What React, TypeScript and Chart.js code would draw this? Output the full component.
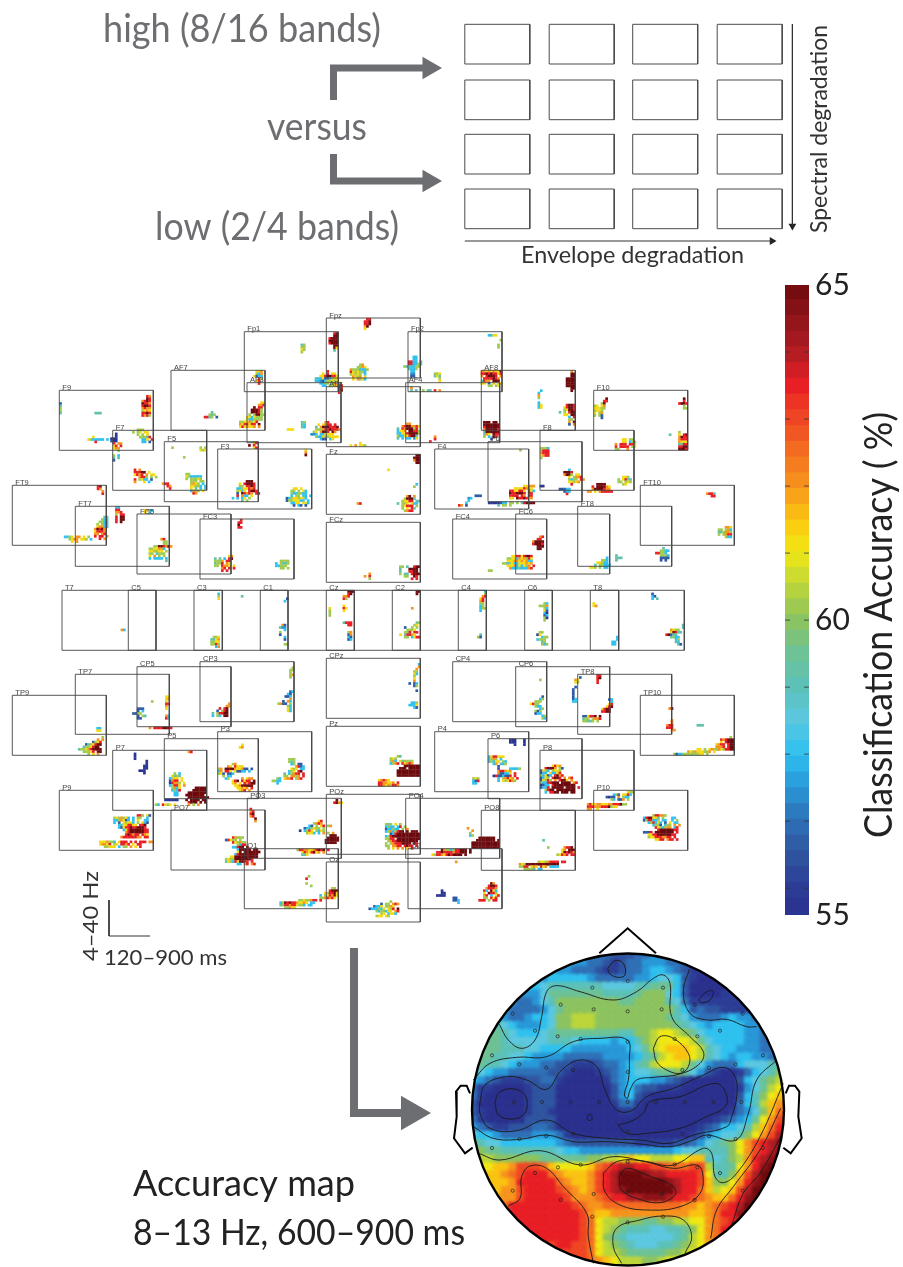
import React, { useEffect, useRef } from "react";
import { Chart, registerables } from "chart.js";

Chart.register(...registerables);

// ---------- accuracy colour scale ----------
const colorStops: number[][] = [
  [55.6, 43, 48, 142], [56, 44, 61, 150], [56.5, 47, 85, 160], [57, 47, 112, 182], [57.5, 40, 152, 216], [58, 47, 193, 239],
  [58.5, 92, 200, 224], [59, 92, 193, 184], [59.5, 109, 194, 149], [60, 141, 195, 95], [60.5, 188, 214, 58],
  [61, 240, 232, 20], [61.4, 250, 205, 15], [62, 247, 148, 29], [63, 239, 70, 36], [63.5, 232, 31, 37],
  [64, 176, 29, 35], [65, 109, 10, 14],
];
// digit code -> accuracy (%) for the electrode time/frequency cells
const digitAccuracy = [55.8, 56.6, 57.4, 58, 59.2, 60.2, 61.2, 62, 63.5, 65];
// letter code a..u -> accuracy 55..65 for the scalp grid
const scalpStep = 0.5;

// ---------- electrode names ----------
const electrodeNames = ["Fpz","Fp1","Fp2","AF7","AF3","AFz","AF4","AF8","F9","F7","F5","F3","Fz","F4","F6","F8","F10","FT9","FT7","FC5","FC3","FCz","FC4","FC6","FT8","FT10","T7","C5","C3","C1","Cz","C2","C4","C6","T8","CPz","CP3","CP5","CP4","CP6","TP7","TP9","TP8","TP10","Pz","P3","P5","P7","P9","P4","P6","P8","P10","POz","PO3","PO7","PO4","PO8","O1","O2","Oz"];

// ---------- electrode cells: [time index, freq index, rows of digit codes] ----------
type Blob = [number, number, string];
const cellsFpz: Blob[] = [[1,6,"  89|  99|8999|9999|8999|  99|  96|  4"],[16,0," 88|889|889|79|6"],[8,19,"      57 |     5576|  75553335|  8656553|  56565 3|   7657 6|   6 7563"]];
const cellsFp1: Blob[] = [[24,5,"45|55|65|5"],[30,16,"     8|   6 8 66|  668998866|4336113566|3321355656|  3355 57|   33 55"]];
const cellsFp2: Blob[] = [[34,1,"3366"],[38,3," 5|  5|5 |5"],[-2,10,"    33|    33|  8833 4|  883354|5443355|  4335|   33|   22|   11"],[11,17,"556|464|  5|  6"],[1,23,"7|4 4  5 44 8 7"],[29,16,"  776767669|  889898868|  7 89998 7|   8888987|  4877 999|  66 1 6 66|     55 56"]];
const cellsAF7: Blob[] = [[14,17,"   4|  545|8845 1"],[34,0,"  667|  537| 6133|   85|  68|   8"],[29,13,"         66|        778|      9 88|     99985|     99985|    5 59955|   6636555|   6335555|55667568|7688688 9|6867667 7"]];
const cellsAF3: Blob[] = [[17,19,"666"],[23,16,"45|43|43"],[25,16,"        78|     6 6788 8|    4 79998889|    55578898887|   56 7998 97|  223 336666|    5336556666|      311 36"]];
const cellsAFz: Blob[] = [[3,-2,"  7|6788|  88|  89|  8"],[8,23,"      6|  6 7 665"],[30,15,"    77|  78997786|4 8799958|3667 99885|3366899995|533668994|4 3 33 26"]];
const cellsAF4: Blob[] = [[31,16,"  999 99|  9999999|  8999999|  7999998|  4999999|  476 988|  5 3 98|     1"],[10,22,"  7|  8|8"]];
const cellsAF8: Blob[] = [[36,0,"  7|  99|  99|9999|9999|9999|9999|  99|  9"],[24,8," 3|3|7|5||3|36|36"],[33,14,"   8998|  689987|  569987|4 5 8998|  66 997|    3 8|    55 5|    7 9|    1 7"]];
const cellsF9: Blob[] = [[35,2,"  87|  98|7898|9887|8998|7877|5676|8898|8785"],[0,5,"1|4|5|5|4"],[15,9,"444"],[12,19,"  6|6533333 3|   8"],[31,16,"  555|5 56 66|  5 5 6|   55548|    336 8|    33 1"]];
const cellsF7: Blob[] = [[-1,1,"  0|  0|000|100"],[0,5,"8 77|68 8|677|  5||5 3|4 4|1"],[9,16,"8 7|88899 6|6878 7 66|  7885 5 5|8 5633 1|7   6 3"]];
const cellsF5: Blob[] = [[3,2,"5"],[8,6,"5"],[15,2,"5 5|656"],[-1,17,"788|  87|   8"],[9,13,"55|6533333|5 55565|  555 55|  5765 3|  66553 3|  6 4 3 3|  3755 6|   87"]];
const cellsF3: Blob[] = [[13,-3,"  68|9 8|  68"],[37,0,"6|7|9"],[6,13,"      999|   6 89998|   55 8898|  33566878|  5636 8998|  1 98787 88|  8 733 6|3 3 36 5|    4 5"],[29,16,"   66 6|  55 5 63|  5335533|  3 55 33 33|135665663|15566633 3|  3366 663|   1 31 1"]];
const cellsFz: Blob[] = [[13,20,"78"],[37,0," 99|999|799| 99"],[26,6,"6"],[37,12," 3|5"],[30,17,"    79 7|   59994|  56688 44|4 556 633|  56888 5|  5 6 84|   5788"]];
const cellsF4: Blob[] = [[36,0,"5"],[10,20,"    23|    3|   3|87 1"],[17,19,"111"]];
const cellsF6: Blob[] = [[7,18,"        66777  00|    66668776|  8866886 863|  9889998 88|  8888 87 88|  66 9889867"],[0,25,"00000133 55 5 489999"],[3,26," 4 55 5"]];
const cellsF8: Blob[] = [[0,7,"5553|5888|7888|6788|5"],[10,16,"  3|9998|7995 66|  6 5778|  5355 87|  66567|   8"],[20,22,"    9999|  8 999976|  79999877|77 6 788888"],[33,19,"  665|5 6844|55 565|  56"],[8,24,"11133|  133|   8"]];
const cellsF10: Blob[] = [[0,3,"     9|    88|   59|56 67|66655|5665|6 57|5 51|   1"],[36,3,"  9|  8|8998|  5|  55"],[32,18,"4"],[34,17,"  5|  6 89|  7988|  7888|  7666|  4488|  8899|  9998"],[9,20,"   66 55|   66 355|7 888 886|8 8888 56|55   7"]];
const cellsFT9: Blob[] = [[36,0,"89|87|  7|  8"],[22,21,"3356 77 6 5|  5677 665 3|   6 7"]];
const cellsFT7: Blob[] = [[6,4,"      44|     533|    5533|   5 533|   67733|  79897|  68887|  77 78|  8 88 7|    8 7"],[15,0,"  33|  88|  778|  5 88|  8 99|  8 99|  8 9"]];
const cellsFC5: Blob[] = [[3,-2,"6733|6 3"],[5,10,"     78|      55|      55|  55998797|5566773|665566 5|55 4555|6 7 5 5|3 3333 3|       4"]];
const cellsFC3: Blob[] = [[16,0," 8|88|9|88"],[6,15,"      67|4 4 3 89|5557 88|4558 76|55 8776 6|   78 8 8|   8 8"],[32,17,"  5555|3 5445|33555|  55 5"]];
const cellsFCz: Blob[] = [[16,21,"  7|7 8|  5"],[31,18,"55 4  899|4   9999|4   8899|5 44 8999|  55  98|     8 8"]];
const cellsFC4: Blob[] = [[15,21,"55"],[21,15,"    668868998|  55663767586|  66677676733|5535633666767|  6667363657 8|   7333433378"]];
const cellsFC6: Blob[] = [[7,9,"   78|  88|79999|89998|  999|  99"]];
const cellsFT8: Blob[] = [[5,21,"       3|     553|   66533|  4 55333|665 5 33"],[14,20,"  4|  444|  4"],[33,17,"   4|  5533|88553|  5553|  1111|  1 1"]];
const cellsFT10: Blob[] = [[28,3,"7884|  88"],[33,17,"   776|55 573|445775|5 5788|   533"]];
const cellsT7: Blob[] = [[25,16,"73"]];
const cellsC5: Blob[] = [];
const cellsC3: Blob[] = [[10,1,"3|5|6"],[7,19," 556|4467|5566|5585|  37"],[20,2,"4"]];
const cellsC1: Blob[] = [[10,3," 1|3"],[8,14," 71|422|  3|5|1|  3|  1||  55"]];
const cellsCz: Blob[] = [[1,7,"6|5|5|5"],[7,0,"  999|  89|778|85|||6|86|6"],[7,13,"4888|  88|||  57|  17|  31|  13"]];
const cellsC2: Blob[] = [[8,0,"  99|  9"],[8,7,"7"],[3,13,"       45|      56|  1  5 5|   5556|  558 88|6 48876|  55 3688"]];
const cellsC4: Blob[] = [[7,0,"    3|    5|   78|  68|  78|  55|  35|  355|  3"],[8,18," 4|51"]];
const cellsC6: Blob[] = [[6,5,"  53|5557|  53|  61|  30|  13|  50|  5"],[5,17," 55|06|  355|3555|  45|  535"]];
const cellsT8: Blob[] = [[1,5,"6|67"],[9,19,"  3|  3|33|33"],[26,1,"1|31|3 4"],[32,14,"       4|       4|  7655|  69844|89144|  4533|    35|    43|     41"]];
const cellsCPz: Blob[] = [[35,2,"    3|    7|   7|  55|  63|  5|  6|  7|1 13|  15"],[38,13,"1|  8"],[35,18," 335|3336|  31"]];
const cellsCP3: Blob[] = [[38,2," 5|55|5|57|5"],[33,12,"     13|    31|   113|     7|  1 73|5711 5|    53|    63|    63"],[5,17,"       7|      77|   8 89|  1 589|4 58899|3 53 99"]];
const cellsCP5: Blob[] = [[6,14,"5"],[-2,17,"  111|  1 3|1155|  1 54|  11"],[10,12,"  66|  67|  6|  88|  7|  6|||  73|  83"],[5,25,"7 88889998"]];
const cellsCP4: Blob[] = [];
const cellsCP6: Blob[] = [[10,5,"5"],[6,12,"     1|    35|  555|6855|  533|    35|  515|  133|     35|     53"],[25,4,"  1|76|65"],[24,8," 1|1|1|1|1|13|33"]];
const cellsTP7: Blob[] = [[9,22,"33|66"]];
const cellsTP9: Blob[] = [[28,17,"          5|        7 7|      1568|   1456899|  4556899|4556789999|  55568 99|    5 6 7"]];
const cellsTP8: Blob[] = [[8,0,"88|89|8|8"],[8,10,"     13|      3|     68|    689|  6899|  8899"],[2,17,"116889 9|455 5778|55445 5"]];
const cellsTP10: Blob[] = [[12,5,"79"],[11,10,"  7|  7|788|888|  77"],[24,12,"444"],[32,17,"      5 7|  87899999|  6 8999999|6788 899999|7778 899999|5765889999"],[14,22,"          66 5 67557|      7657666557 6|5133555555566 5"]];
const cellsPz: Blob[] = [[25,12,"     54|  565|  573 645555|  3578 86787|        99999999|      999 99999|     9999999999|     9999999999|     9999999999"],[22,22,"67876|8877667 8|887675887"]];
const cellsP3: Blob[] = [[9,5," 6|67"],[0,13,"      57|    76 8666|57 9999766711 1|37 886 61133 3|561 113|  5 33|   35"],[4,19,"      7 677|  689 8688 9|  67 6 87899|   66799999|    66767 8|     678 7"],[28,11,"  555|  545|   35 11|     7813|   656 33|  356 89|4 35788 8|55 7757 8|6778 578"],[23,19,"  53|5533|  3"]];
const cellsP5: Blob[] = [[10,5,"78"],[0,14,"    5 3|   6454|  3566 6|  1788 6|  08775 6|  35886 7|   5736|   3538|    33|    33"],[7,20,"      99999|     999999|   99999999|  99999999|   999999999|  9 9999 99|   8999 9 9|   7 5 7"],[0,25,"000000"],[-4,27,"53 8656 6"]];
const cellsP7: Blob[] = [[9,1,"0|0|0"],[11,4,"   0|   0|  00|  00|000|  0"]];
const cellsP9: Blob[] = [[23,10,"          885 61|5657563 3 55  3|3357613 3 6  33|3 1 65663 5 631|  33668866 889|  316889889998|    36899999988|     7899999988|     898788 876|   788888877 88"],[17,21,"6667553 6888 8 8 888 77|67768 56 8878 6 88|  55666 3 55 7 6 8"]];
const cellsP4: Blob[] = [[16,19,"565|318|33"]];
const cellsP6: Blob[] = [[9,0,"000|000|  0"],[15,0,"0|0|0"],[0,7,"3688666 |3575 3|35366 53|  37 435|    1|    1    33335|    788767|    711336 8|  08113118 8|    3 57867 8|    3 656875"]];
const cellsP8: Blob[] = [[0,6,"     6867|  89997 51|1653 5665|133 63368|53613 8978|1365 8998 7 78|16585 7 8996 7|53388999 9999 78|0133 8999999999|1338 99999 9999 8|  5899 99999999|  3 8899 999 99"],[28,17,"         655|   351 6683|1011 7 533|  53 117 5"],[20,22,"78667766677888955|8887778889566 |77  6"]];
const cellsP10: Blob[] = [[21,10,"    588775|3899664 5   33|1588335 33  3 5|  358363 1 6 33|    3551 355 7 7|     8653577 38|      899999988|1118 99999999 8|  668899999988|  5668887788 8|     6688 788 8"]];
const cellsPOz: Blob[] = [[3,2," 9|8976"],[23,12,"  545 6 5|  3533 38 5|  133533 5 7|  35735899 9 999|    1389999999999|  358999999999999|  5588 9999999999|   5788999999999|  5 578889999 98|  55 7788 8988 8|   5 6 7 7 6 8"]];
const cellsPO3: Blob[] = [[1,4,"8|78|89|78|  9|  7"],[22,9,"        68|      5787|    31 5 68 57|  1335655 5|0 3586 5365|   5663 3 7 5 7|             999|            99999|           999999|           99999"],[21,21,"588776678989 8|  68768967 7|  446"]];
const cellsPO7: Blob[] = [[23,11,"   87555|18655 5|   865755|     5388|   33899 9|     399999 99|     69 9999999|    3899999999|  669999999999|565599999998|4653869988 8|     33 78 78"]];
const cellsPO4: Blob[] = [[11,21,"    97553588999 9|  8898888788999 9|6588768989999 9"],[28,16,"   9999999|  99999999 9|999999999999|999999999999|999999999999"],[25,12," 7|   7|  5|  35"],[21,26,"7"]];
const cellsPO8: Blob[] = [[26,12,"4"],[28,15,"5"],[32,15,"   7889|  67 9998|  698987|56878 888"],[16,21,"        566578888 88|76599999999999999|5588 676 867 3333|  55554 33"]];
const cellsO1: Blob[] = [[26,11," 5|8||5"],[28,15,"5"],[30,16,"       55|      8999|    658896|  3 568796|  5578786"],[15,21,"        55655788 8|359898876676 33|45887886553 33|  55766"]];
const cellsO2: Blob[] = [[12,17,"  0|  00|0000"],[19,20,"11|113|  3"],[30,14,"     97|    8998|   78887|  83 963|  6 9885|  78 3 68|  55 868|888 5 88"]];
const cellsOz: Blob[] = [[18,16,"         5|     1 55 787|  1336 5576|1333536 658 9|   5355366 78|     56 3663|   566 65"]];

const electrodeCells: Blob[][] = [cellsFpz,cellsFp1,cellsFp2,cellsAF7,cellsAF3,cellsAFz,cellsAF4,cellsAF8,cellsF9,cellsF7,cellsF5,cellsF3,cellsFz,cellsF4,cellsF6,cellsF8,cellsF10,cellsFT9,cellsFT7,cellsFC5,cellsFC3,cellsFCz,cellsFC4,cellsFC6,cellsFT8,cellsFT10,cellsT7,cellsC5,cellsC3,cellsC1,cellsCz,cellsC2,cellsC4,cellsC6,cellsT8,cellsCPz,cellsCP3,cellsCP5,cellsCP4,cellsCP6,cellsTP7,cellsTP9,cellsTP8,cellsTP10,cellsPz,cellsP3,cellsP5,cellsP7,cellsP9,cellsP4,cellsP6,cellsP8,cellsP10,cellsPOz,cellsPO3,cellsPO7,cellsPO4,cellsPO8,cellsO1,cellsO2,cellsOz];

// ---------- scalp map: letters a..u, 40 columns by 40 rows ----------
const scalpRows = [
"ggggg ggggg ggggg feedd deeff fgggg ggggg ggggg",
"ggggg ggggg gggff eedcd eefff eeddd ddddd ddddd",
"ggggg ggggg gffee edccd eefgg fedcc cbbcc ddddd",
"ggggg gggff ggggg feeee effgh hgdcb bbbbc ddddd",
"ggggg ggggh iiiii iihhh hiijj jgdbb bbbcc ddddd",
"fffff gfffh jjjjj jjiii ijkkk hgdbb bbccc ccddd",
"ggggg feefh ikkkk kkkkj jkkkk ihecc ccccc ccddd",
"ggggf eeeef hjkkk kkkkk kkkkk kigde ddccc ccddd",
"hhhgf eefgg hkkll lkkkk kkkkk jihfe eefgf feddd",
"iiiih gfffg hkkll lkkkk kkkkk kjihg fgggg ffedd",
"jjjji hgggh ijjjj jjjji ikklm mlkjh ggggg ffeee",
"kjjji hhhhh iiihg gggfg giklm mmmlj hgggg ffeee",
"kkjji iihhg gggff fffff ghjlm nnnml ihggf ffeee",
"kjjii hhgff ffeee eefff fgijl mnnml ihgfg gffee",
"jjiih gfffe eddcc cdeef gijlm mmljh feeeg hhhii",
"ihgff eeeee ddcbb bcdef ghhij jkjhf dcbbc eghik",
"gfedc ccdde ecbaa abcef gggff edcbb baabd ghjkl",
"eccba aacdd dbaaa aabdf geddc ccbba aaabc fhjlm",
"ecbaa aacdd dbaaa aabdf gdcbb bbaaa aaabd gikmn",
"dbaaa aacdd daaaa aaace ecbaa aaaaa aaabe gilno",
"dcaaa aacdd caaaa aaabc cbaaa aaaaa aabce fhknp",
"ecbaa abddd daaaa aaaaa aaaaa aaaab bcdef gjmoq",
"fedcc dddee dbaaa aaaaa aaaaa aaabc deggh ilnpr",
"hggfe eeeff fecbb bbbbb baaaa abbcd fghhi kmoqs",
"jihhg ggggg gfedd ddddd dcccc cddef hijkm oqrst",
"kkjji iiiii ihggf fffff fffff fghhi iiikm oqrst",
"lllkk kkkkj jjjjj kkllm nmmll lmmnn ihikl orstu",
"lmmnn oqqqp nmmmm npqrs srrqq pppqq liijm ortuu",
"mmnno pqrrr ponnn oqrsu uutss rrrrq miikn qsuuu",
"nnnnn orrrr rponn oqrsu uuuuu tsrrq nkkmo rtuuu",
"nnnno oqrrr rqpon oqrst uuuuu usrrp nlmnq suuuu",
"nnnoo oqrrr rrqoo opqrr ssttt srrqp onnpr tuuuu",
"ooopp rrrrr rrrqp ooppp ppppp ppoon opqrs uuuuu",
"ooppq rrrrr rrrrq onnoo ooooo ooonn oprrt uuuuu",
"ppqqq rrrrr rrrrq pmllk kkjjk kllmm opqrs tuuuu",
"ppqqq qrrrr rrrrq pmlkj iiihh iijkm oprrs ttuuu",
"ppqqq qqrrr rrrrq pmkji hhhhh hijlm oprrs ttuuu",
"ppqqq qqqrr qrrqq pmlkj ihhhi ijklm opqrr ssttt",
"ppqqq qqqqq qqqqq pmllk jjjjj kklmn oppqr rsstt",
"ppqqq qqqqq qqqqq ponml llkkl mmnop opqqr rsstt",
];

// contour lines in scalp units
const contours: number[][][] = [
  [[178,313],[205,360],[245,385],[285,360],[305,290],[320,215],[350,197],[420,215],[520,240],[590,215],[640,175],[670,165],[690,190],[695,290],[750,350],[790,395],[780,430],[720,462],[640,472],[590,480],[570,510],[562,535],[553,525],[565,480],[568,420],[562,360],[480,355],[400,365],[320,410],[230,412],[150,430],[100,480]],
  [[120,545],[135,495],[200,470],[260,480],[320,508],[365,450],[420,420],[470,440],[495,510],[530,570],[575,572],[620,530],[700,505],[790,465],[850,442],[885,470],[890,530],[875,590],[860,620],[760,645],[690,670],[600,660],[500,655],[400,640],[320,600],[230,632],[150,625],[120,580],[120,545]],
  [[165,550],[175,520],[213,506],[250,520],[262,550],[250,585],[213,597],[175,585],[165,550]],
  [[100,620],[160,655],[240,658],[320,645],[400,665],[500,665],[600,672],[690,680],[760,660],[800,645],[888,660],[925,580],[950,480],[1010,420]],
  [[115,700],[180,720],[300,692],[420,735],[520,710],[620,725],[700,735],[790,685],[815,700],[825,770],[850,788],[890,760],[960,650],[1030,490]],
  [[205,858],[240,835],[245,770],[270,738],[320,745],[370,800],[440,880],[445,950],[460,1030]],
  [[490,760],[530,725],[600,722],[700,745],[770,735],[788,760],[780,820],[720,860],[620,870],[540,855],[495,815],[490,760]],
  [[537,770],[560,745],[620,765],[700,800],[705,825],[660,848],[590,835],[545,810],[537,770]],
  [[640,385],[660,350],[700,355],[745,400],[745,440],[720,460],[680,450],[650,425],[640,385]],
  [[533,615],[570,605],[610,580],[630,545],[720,530],[825,490],[858,520],[855,560],[800,590],[720,625],[620,640],[560,640],[533,615]],
  [[503,145],[525,122],[550,130],[555,165],[535,172],[510,162],[503,145]],
  [[748,148],[730,215],[750,280],[800,300],[860,298],[920,320],[950,320]],
  [[775,240],[800,215],[820,215],[810,240],[785,248],[775,240]],
  [[442,590],[448,582],[456,590],[454,600],[443,600],[442,590]],
  [[545,1030],[520,980],[530,925],[600,900],[670,888],[730,900],[755,950],[735,1000]],
  [[812,955],[830,870],[880,800],[960,690],[1022,565]],
  [[875,915],[910,820],[960,760],[1025,645]],
];
// electrode sites in scalp units
const sites: number[][] = [[563,183],[457,203],[669,203],[764,254],[362,254],[461,268],[563,274],[665,268],[218,281],[908,281],[285,332],[840,332],[353,349],[422,357],[704,357],[772,349],[563,365],[156,406],[969,406],[238,433],[319,443],[399,450],[563,456],[727,450],[807,443],[887,433],[222,546],[306,546],[392,546],[477,546],[563,546],[648,546],[735,546],[820,546],[904,546],[399,641],[563,635],[727,641],[238,657],[319,648],[807,648],[887,657],[156,684],[969,684],[422,734],[563,725],[704,734],[354,742],[772,742],[285,759],[840,759],[218,812],[908,812],[461,822],[563,816],[665,822],[362,840],[764,840],[457,890],[669,890],[563,907]];
const nose = [[478,100],[563,25],[648,100]];
const earLeft = [[90,520],[80,497],[62,497],[48,515],[50,590],[42,655],[75,700],[98,683]];
const earRight = [[1037,520],[1047,497],[1065,497],[1078,515],[1075,590],[1085,655],[1052,700],[1030,683]];

// ---------- colour bar ----------
const barMin = 55.6;
const barMax = 65;
const barTicks = [55.6, 60, 65];
const barMinorTicks = [56, 57, 58, 59, 60, 61, 62, 63, 64];

// ---------- layout (kept apart from values) ----------
const panelW = 94, panelH = 60;
const cellW = panelW / 40, cellH = panelH / 25;
const panelLeft = [326.3,244.3,408,171,247,326.3,405.7,481.3,59.3,112.7,164.3,217.7,326.3,434.7,488,540,593.7,12.3,75.3,137,200,326.3,452.7,515.7,577.7,640.3,62,128.3,194,260.3,326.3,392.3,458.3,524.7,590.3,326.3,200,137,452.7,515.7,75.3,12.3,577.7,640.3,326.3,217.7,164.3,112.7,59.3,434.7,488,540,593.7,326.3,247.3,171,405.7,481.3,244.3,408,326.3];
const panelTop = [318,331.7,331.7,370.3,382.7,386.7,382.7,370.3,390.3,430.3,441.7,449,454.3,449,441.7,430.3,390.3,485.3,506.3,514,519,522.3,519,514,506.3,485.3,590.3,590.3,590.3,590.3,590.3,590.3,590.3,590.3,590.3,658.3,661.7,666.7,661.7,666.7,674.3,695.3,674.3,695.3,726.3,731.7,738.7,750.3,790.3,731.7,738.7,750.3,790.3,794.3,798.3,810,798.3,810.3,848.7,848.7,862];
const gridLeft = [464.8, 549.2, 632.7, 717.2];
const gridTop = [24.3, 80, 134.3, 189];
const gridW = 65, gridH = 39.7;
const headCx = 628, headCy = 1109.5, headR = 156;
const scalpX = (z: number) => 440 + z / 3;
const scalpY = (z: number) => 920 + z / 3;

const GREY = "#6d6e71";
const textItems: { t: string; x: number; y: number; size: number; w: number; color: string; rot?: number }[] = [
  { t: "high (8/16 bands)", x: 103, y: 42, size: 38, w: 278, color: GREY },
  { t: "versus", x: 267, y: 140, size: 38, w: 100, color: GREY },
  { t: "low (2/4 bands)", x: 155, y: 240, size: 38, w: 244, color: GREY },
  { t: "Envelope degradation", x: 521, y: 263, size: 23, w: 223, color: "#333" },
  { t: "Spectral degradation", x: 827, y: 233, size: 23, w: 208, color: "#333", rot: -90 },
  { t: "Accuracy map", x: 133, y: 1196, size: 37, w: 222, color: "#222" },
  { t: "8\u201313 Hz, 600\u2013900 ms", x: 133, y: 1245, size: 37, w: 332, color: "#222" },
  { t: "4\u201340 Hz", x: 98, y: 961, size: 22, w: 90, color: "#333", rot: -90 },
  { t: "120\u2013900 ms", x: 104, y: 965, size: 22, w: 123, color: "#333" },
  { t: "Classification Accuracy ( %)", x: 892, y: 838, size: 38, w: 426, color: "#222", rot: -90 },
];

// ---------- helpers ----------
function accuracyColor(v: number): string {
  const s = colorStops;
  if (v <= s[0][0]) return `rgb(${s[0][1]},${s[0][2]},${s[0][3]})`;
  for (let i = 1; i < s.length; i++) {
    if (v <= s[i][0]) {
      const f = (v - s[i - 1][0]) / (s[i][0] - s[i - 1][0]);
      const c = [1, 2, 3].map((k) => Math.round(s[i - 1][k] + f * (s[i][k] - s[i - 1][k])));
      return `rgb(${c[0]},${c[1]},${c[2]})`;
    }
  }
  const l = s[s.length - 1];
  return `rgb(${l[1]},${l[2]},${l[3]})`;
}

function buildCells() {
  const pts: { x: number; y: number }[] = [];
  const colors: string[] = [];
  electrodeCells.forEach((blobs, p) => {
    blobs.forEach(([c0, r0, body]) => {
      body.split("|").forEach((row, r) => {
        for (let c = 0; c < row.length; c++) {
          if (row[c] === " " || c0 + c > 39) continue;
          pts.push({ x: panelLeft[p] + (c0 + c + 0.5) * cellW, y: panelTop[p] + (r0 + r + 0.5) * cellH });
          colors.push(accuracyColor(digitAccuracy[+row[c]]));
        }
      });
    });
  });
  return { pts, colors };
}

function buildScalp() {
  const pts: { x: number; y: number }[] = [];
  const colors: string[] = [];
  const n = 40;
  const side = (2 * headR + 2) / n;
  scalpRows.forEach((raw, j) => {
    const row = raw.replace(/ /g, "");
    for (let i = 0; i < row.length; i++) {
      const v = 55 + (row.charCodeAt(i) - 97) * scalpStep;
      pts.push({ x: headCx - headR - 1 + (i + 0.5) * side, y: headCy - headR - 1 + (j + 0.5) * side });
      colors.push(accuracyColor(v));
    }
  });
  return { pts, colors, radius: (side / Math.SQRT2) * 1.45 };
}

const toScalp = (a: number[][]) => a.map(([x, y]) => ({ x: scalpX(x), y: scalpY(y) }));
const GAP = { x: NaN, y: NaN };

function boxes(lefts: number[], tops: number[], w: number, h: number) {
  const out: { x: number; y: number }[] = [];
  lefts.forEach((l, i) => {
    const t = tops[i];
    out.push({ x: l, y: t }, { x: l + w, y: t }, { x: l + w, y: t + h }, { x: l, y: t + h }, { x: l, y: t }, GAP);
  });
  return out;
}

const lineDs = (data: any[], color: string, width: number, order: number, tension = 0) => ({
  data, showLine: true, borderColor: color, borderWidth: width, pointRadius: 0, tension, order, spanGaps: false, fill: false,
});

export default function App() {
  const mainRef = useRef<HTMLCanvasElement>(null);
  const barRef = useRef<HTMLCanvasElement>(null);

  useEffect(() => {
    const cells = buildCells();
    const scalp = buildScalp();
    const gridXs: number[] = [];
    const gridYs: number[] = [];
    gridTop.forEach((t) => gridLeft.forEach((l) => { gridXs.push(l); gridYs.push(t); }));

    const datasets: any[] = [
      { label: "scalp", data: scalp.pts, pointStyle: "rect", pointRadius: scalp.radius, pointBorderWidth: 0, pointBackgroundColor: scalp.colors, showLine: false, order: 30 },
      { label: "cells", data: cells.pts, pointStyle: "rect", pointRadius: 1.9, pointBorderWidth: 0, pointBackgroundColor: cells.colors, showLine: false, order: 20 },
      lineDs(boxes(panelLeft, panelTop, panelW, panelH), "rgba(70,70,70,0.9)", 1, 10),
      lineDs(boxes(gridXs, gridYs, gridW, gridH), "#4a4a4a", 1, 10),
      ...contours.map((c) => ({ ...lineDs(toScalp(c), "#1a1a1a", 0.9, 5, 0.4) })),
      { data: toScalp(sites), pointStyle: "circle", pointRadius: 1.6, pointBorderWidth: 0.7, pointBorderColor: "#222", pointBackgroundColor: "rgba(0,0,0,0)", showLine: false, order: 4 },
      { data: [{ x: headCx, y: headCy }], pointStyle: "circle", pointRadius: headR, pointBorderWidth: 2.4, pointBorderColor: "#000", pointBackgroundColor: "rgba(0,0,0,0)", showLine: false, order: 3, clip: false },
      lineDs(toScalp(nose), "#000", 2, 3),
      lineDs(toScalp(earLeft), "#000", 2, 3),
      lineDs(toScalp(earRight), "#000", 2, 3),
      // arrows
      lineDs([{ x: 333.5, y: 100 }, { x: 333.5, y: 68 }, { x: 428, y: 68 }], GREY, 7, 2),
      lineDs([{ x: 333.5, y: 154 }, { x: 333.5, y: 181 }, { x: 428, y: 181 }], GREY, 7, 2),
      lineDs([{ x: 354, y: 948 }, { x: 354, y: 1113 }, { x: 410, y: 1113 }], GREY, 8, 2),
      { data: [{ x: 429, y: 68 }, { x: 429, y: 181 }], pointStyle: "triangle", pointRadius: 13, pointRotation: 90, pointBorderWidth: 0, pointBackgroundColor: GREY, showLine: false, order: 2 },
      { data: [{ x: 411, y: 1113 }], pointStyle: "triangle", pointRadius: 20, pointRotation: 90, pointBorderWidth: 0, pointBackgroundColor: GREY, showLine: false, order: 2 },
      lineDs([{ x: 792.4, y: 24 }, { x: 792.4, y: 226 }], "#333", 1, 2),
      lineDs([{ x: 464.8, y: 241 }, { x: 772, y: 241 }], "#333", 1, 2),
      { data: [{ x: 792.4, y: 226 }], pointStyle: "triangle", pointRadius: 4.5, pointRotation: 180, pointBorderWidth: 0, pointBackgroundColor: "#222", showLine: false, order: 2 },
      { data: [{ x: 772, y: 241 }], pointStyle: "triangle", pointRadius: 4.5, pointRotation: 90, pointBorderWidth: 0, pointBackgroundColor: "#222", showLine: false, order: 2 },
      // scale bar
      lineDs([{ x: 109, y: 900 }, { x: 109, y: 936 }, { x: 150, y: 936 }], "#333", 1, 2),
    ];

    const scalpClip = {
      id: "scalpClip",
      beforeDatasetDraw(chart: any, args: any) {
        if (args.index !== 0 && args.index !== 1) return;
        const c = chart.ctx;
        c.save();
        if (args.index === 0) {
          c.beginPath();
          c.arc(headCx, headCy, headR, 0, Math.PI * 2);
          c.clip();
          c.filter = "blur(1.5px)";
        } else {
          c.filter = "blur(0.35px)";
        }
      },
      afterDatasetDraw(chart: any, args: any) {
        if (args.index === 0 || args.index === 1) chart.ctx.restore();
      },
    };

    const textPlugin = {
      id: "texts",
      afterDraw(chart: any) {
        const c = chart.ctx;
        c.save();
        c.textBaseline = "alphabetic";
        c.textAlign = "left";
        c.fillStyle = "#444";
        c.font = '7.5px "Liberation Sans"';
        electrodeNames.forEach((n, i) => c.fillText(n, panelLeft[i] + 3, panelTop[i] - 0.5));
        textItems.forEach((it) => {
          c.save();
          c.translate(it.x, it.y);
          if (it.rot) c.rotate((it.rot * Math.PI) / 180);
          c.fillStyle = it.color;
          c.font = `${it.size}px Lato`;
          c.scale(it.w / c.measureText(it.t).width, 1);
          c.fillText(it.t, 0, 0);
          c.restore();
        });
        c.restore();
      },
    };

    const main = new Chart(mainRef.current!, {
      type: "scatter",
      data: { datasets },
      options: {
        animation: false,
        responsive: false,
        events: [],
        layout: { padding: 0, autoPadding: false },
        plugins: { legend: { display: false }, tooltip: { enabled: false } },
        scales: {
          x: { type: "linear", min: 0, max: 903, display: false },
          y: { type: "linear", min: 0, max: 1267, reverse: true, display: false },
        },
      },
      plugins: [scalpClip, textPlugin],
    } as any);

    // colour bar as a real value axis
    const bandSize = 0.235;
    const bands: number[][] = [];
    for (let k = 0; k < 40; k++) bands.push([barMin + k * bandSize, barMin + (k + 1) * bandSize + 0.02]);
    const minorTicks = {
      id: "minorTicks",
      afterDatasetsDraw(chart: any) {
        const { ctx: c, chartArea: a, scales } = chart;
        c.save();
        c.strokeStyle = "#333";
        c.lineWidth = 0.8;
        barMinorTicks.forEach((v) => {
          const y = scales.y.getPixelForValue(v);
          c.beginPath(); c.moveTo(a.left, y); c.lineTo(a.left + 5, y); c.stroke();
          c.beginPath(); c.moveTo(a.right - 5, y); c.lineTo(a.right, y); c.stroke();
        });
        c.restore();
      },
    };
    const bar = new Chart(barRef.current!, {
      type: "bar",
      data: {
        labels: [""],
        datasets: bands.map((b) => ({
          data: [[b[0], b[1]]], backgroundColor: accuracyColor((b[0] + b[1]) / 2), borderWidth: 0,
          barPercentage: 1, categoryPercentage: 1, grouped: false,
        })),
      },
      options: {
        animation: false,
        responsive: false,
        events: [],
        layout: { padding: { left: 785, top: 285, bottom: 352, right: 34 }, autoPadding: false },
        plugins: { legend: { display: false }, tooltip: { enabled: false } },
        scales: {
          x: { display: false },
          y: {
            position: "right", min: barMin, max: barMax,
            grid: { display: false, drawTicks: false, tickLength: 0 }, border: { display: false },
            afterBuildTicks: (s: any) => { s.ticks = barTicks.map((value) => ({ value })); },
            afterFit: (s: any) => { s.width = 60; },
            ticks: {
              autoSkip: false, padding: 6, color: "#222", font: { family: "Lato", size: 30 },
              callback: (v: any) => String(Math.floor(+v)),
            },
          },
        },
      },
      plugins: [minorTicks],
    } as any);

    return () => { main.destroy(); bar.destroy(); };
  }, []);

  const st: React.CSSProperties = { position: "absolute", left: 0, top: 0, display: "block" };
  return (
    <div style={{ position: "absolute", left: 0, top: 0, width: 903, height: 1267, background: "#fff", overflow: "hidden" }}>
      <canvas ref={mainRef} width={903} height={1267} style={st} />
      <canvas ref={barRef} width={903} height={1267} style={st} />
    </div>
  );
}
